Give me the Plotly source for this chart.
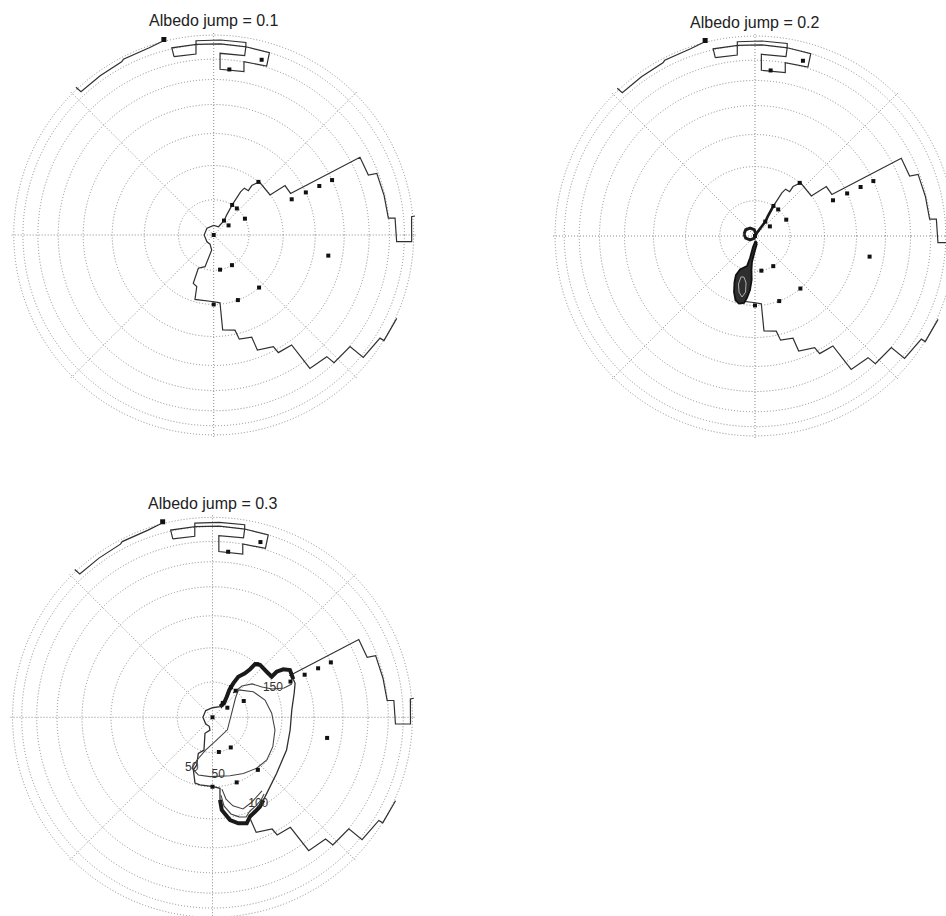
import numpy as np
import plotly.graph_objects as go

FIG_W, FIG_H = 960, 924

titles = ["Albedo jump = 0.1", "Albedo jump = 0.2", "Albedo jump = 0.3"]

# graticule: parallels every 10 deg, meridians every 45 deg
parallel_lats = [80, 70, 60, 50, 40, 30, 20, 10, 0]
meridian_lons = [0, 45, 90, 135, 180, 225, 270, 315]

# ice-sheet margin on the model grid (lon, lat in degrees)
outline_lon = [335.5, 328.2, 328.2, 320.7, 320.7, 313.3, 312.9, 305.8, 305.3, 298.8,
               298.1, 290.8, 290.4, 283.8, 282.6, 275.4, 275.3, 270.3, 253.8, 251.8,
               247.1, 245.2, 254.7, 262.4, 248.3, 225, 180, 135, 90, 60,
               54.2, 57.0, 58.5, 58.2, 58.1, 56.8, 52.0, 52.4, 49.4, 35.4,
               34.7, 28.4, 28.0, 21.2, 20.7, 13.0, 5.5, 5.3, 357.9, 358.1,
               5.3, 5.4]
outline_lat = [7.7, 9.3, 15.4, 17.8, 29.8, 30.2, 35.1, 35.9, 48.4, 48.6,
               51.4, 52.7, 57.5, 58.1, 61.3, 62.0, 70.4, 70.8, 70.7, 74.5,
               75.0, 79.6, 80.7, 85.7, 87.2, 87.3, 87.3, 87.3, 87.3, 87.3,
               85.0, 83.3, 79.9, 77.3, 75.5, 74.0, 73.9, 72.1, 69.8, 70.1,
               64.7, 64.5, 35.3, 35.2, 30.8, 30.5, 30.2, 26.2, 25.6, 12.6,
               11.8, 5.1]

# far-side fragments near the horizon
arc_lon = [133.0, 132.8, 125.5, 118.0, 117.2, 109.0, 105.1]
arc_lat = [5.7, 15.8, 15.6, 15.0, 13.3, 12.8, 9.6]

box_lon = [102.55, 102.6, 95.3, 95.6, 102.55]
box_lat = [25.8, 19.1, 19.4, 26.4, 25.8]

strip_lon = [95.3, 95.2, 88.0, 80.5, 80.3, 88.0, 95.3]
strip_lat = [19.4, 16.1, 16.0, 15.9, 19.8, 19.6, 19.4]

patch_lon = [80.3, 73.0, 72.6, 80.1, 79.5, 87.8, 88.0, 80.2, 80.3]
patch_lat = [19.8, 20.1, 29.3, 29.9, 35.1, 35.2, 26.4, 26.2, 19.8]

flag_lon = [104.3]
flag_lat = [6.3]

# stations
station_lon = [49.9, 58.5, 48.9, 27.6, 54.5, 32.9, 0.0, 24.6, 24.8, 24.9,
               24.9, 349.8, 301.2, 280.4, 310.8, 290.4, 270.0, 84.6, 74.7]
station_lat = [70, 80, 80, 80, 85, 85, 90, 65, 60, 55,
               50, 55, 80, 80, 70, 70, 70, 35, 26.5]

# albedo jump 0.2: ice confined to a narrow tongue
tongue_lon = [286.0, 270.0, 263.4, 264.1, 265.7, 264.7, 262.6, 260.7, 256.7, 253.1,
              249.4, 246.0, 244.0, 245.9, 255.1, 257.2, 259.7, 275.7, 286.0]
tongue_lat = [87.9, 86.0, 82.6, 80.3, 77.5, 74.5, 72.1, 70.5, 70.0, 70.7,
              72.9, 75.6, 77.6, 79.6, 81.2, 83.6, 86.8, 88.6, 87.9]
tongue_core_lon = [251.1, 251.0, 254.1, 258.0, 260.4, 259.2, 255.0, 251.1]
tongue_core_lat = [77.7, 75.5, 73.3, 72.1, 73.7, 76.4, 77.9, 77.7]
cap_lon = [169.7, 146.0, 122.0, 97.0, 63.0, 250.0, 218.7, 193.4, 169.7]
cap_lat = [86.85, 86.85, 87.4, 88.2, 89.4, 89.3, 88.2, 87.3, 86.85]

# albedo jump 0.3: ice-sheet edge and thickness contours
sheet_lon = [25.2, 31.4, 34.1, 35.4, 34.4, 40.1, 47.8, 51.4, 52.0, 53.6,
             57.6, 58.5, 58.4, 55.4, 50.6, 54.7, 90, 135, 180, 225,
             250, 258.9, 244.9, 255.4, 248.5, 251.7, 250.0, 255.1, 259.5, 270.7,
             276.0, 275.2, 275.7, 279.7, 283.7, 287.9, 290.7, 294.2, 297.9, 301.6,
             305.5, 318.9, 336.2, 350.7, 5.3, 16.4, 22.4, 25.2]
sheet_lat = [63.9, 63.45, 65.1, 67.2, 69.3, 69.6, 69.6, 70.4, 72.5, 74.4,
             76.3, 78.7, 80.9, 82.9, 84.9, 86.3, 87.3, 87.3, 87.3, 87.3,
             87.3, 86.3, 85.0, 80.4, 79.0, 75.7, 74.0, 70.4, 70.2, 70.0,
             69.4, 65.9, 62.7, 59.1, 57.5, 56.7, 58.5, 59.3, 60.1, 61.4,
             62.6, 65.2, 66.5, 67.2, 66.9, 65.2, 63.9, 63.9]

c50_lon = [46.6, 32.1, 18.2, 3.9, 348.5, 334.0, 321.8, 310.9, 298.8, 286.7,
           267.6, 256.2, 248.0, 250.0, 258.0, 275.0, 320.0, 20.0, 40.0, 46.6]
c50_lat = [79.3, 76.3, 74.2, 73.0, 71.7, 70.7, 70.1, 70.6, 71.6, 72.5,
           73.0, 73.0, 74.3, 77.0, 80.5, 83.0, 84.5, 84.0, 81.5, 79.3]

c150_lon = [49.8, 46.7, 40.1, 31.5, 25.4, 22.3, 22.7]
c150_lat = [81.0, 77.8, 75.2, 73.4, 71.0, 67.6, 64.9]

c100_lon = [276.2, 277.4, 280.8, 284.9, 288.6, 291.8, 296.1, 300.4, 303.9]
c100_lat = [67.3, 63.9, 61.0, 59.5, 58.8, 60.2, 60.9, 61.8, 62.9]

c75_lon = [277.5, 279.4, 283.0, 288.4, 295.0, 303.9]
c75_lat = [69.1, 65.9, 63.4, 61.6, 62.6, 64.1]

label_text = ["50", "50", "150", "100"]
label_lon = [247.8, 275.7, 25.8, 297.8]
label_lat = [74.3, 73.4, 70.7, 61.1]

LINE = "#303030"
GRID = "#8a8a8a"
FONT = "Liberation Sans, Arial, Helvetica, sans-serif"


def rad(lat):
    # orthographic projection about the pole
    return np.cos(np.radians(np.asarray(lat, dtype=float)))


def line_trace(lon, lat, sub, width=1.2, color=LINE, fill=None, fillcolor=None):
    return go.Scatterpolar(theta=list(lon), r=rad(lat), mode="lines", subplot=sub,
                           line=dict(color=color, width=width), fill=fill,
                           fillcolor=fillcolor, hoverinfo="skip", showlegend=False)


fig = go.Figure()
subs = ["polar", "polar2", "polar3"]

for k, sub in enumerate(subs):
    # margin of the ice sheet
    if k == 0:
        fig.add_trace(line_trace(outline_lon, outline_lat, sub))
    elif k == 1:
        fig.add_trace(line_trace(outline_lon[:19], outline_lat[:19], sub))
        fig.add_trace(line_trace(outline_lon[30:], outline_lat[30:], sub))
        fig.add_trace(line_trace([cap_lon[4]] + outline_lon[30:33],
                                 [cap_lat[4]] + outline_lat[30:33], sub, width=2.6,
                                 color="#1a1a1a"))
        fig.add_trace(line_trace(tongue_lon, tongue_lat, sub, width=1.8, color="#111",
                                 fill="toself", fillcolor="#2e2e2e"))
        fig.add_trace(line_trace(tongue_core_lon, tongue_core_lat, sub, width=1,
                                 color="#b0b0b0"))
        fig.add_trace(line_trace(cap_lon, cap_lat, sub, width=3, color="#1a1a1a"))
    else:
        fig.add_trace(line_trace(outline_lon[:13], outline_lat[:13], sub))
        fig.add_trace(line_trace(outline_lon[41:], outline_lat[41:], sub))
        fig.add_trace(line_trace(sheet_lon, sheet_lat, sub, width=1.3))
        fig.add_trace(line_trace(sheet_lon[:16], sheet_lat[:16], sub, width=4, color="#1a1a1a"))
        fig.add_trace(line_trace(sheet_lon[31:40], sheet_lat[31:40], sub, width=4, color="#1a1a1a"))
        fig.add_trace(line_trace(c100_lon, c100_lat, sub, width=1.1, color="#444"))
        fig.add_trace(line_trace(c75_lon, c75_lat, sub, width=1.1, color="#444"))
        fig.add_trace(line_trace(c50_lon, c50_lat, sub, width=1.1, color="#444"))
        fig.add_trace(line_trace(c150_lon, c150_lat, sub, width=1.1, color="#444"))
        fig.add_trace(go.Scatterpolar(theta=label_lon, r=rad(label_lat), mode="text",
                                      text=label_text, subplot=sub, hoverinfo="skip",
                                      showlegend=False,
                                      textfont=dict(family=FONT, size=12, color="#333")))

    # fragments near the horizon
    fig.add_trace(line_trace(arc_lon, arc_lat, sub))
    fig.add_trace(line_trace(box_lon, box_lat, sub))
    fig.add_trace(line_trace(strip_lon, strip_lat, sub))
    fig.add_trace(line_trace(patch_lon, patch_lat, sub))
    fig.add_trace(go.Scatterpolar(theta=flag_lon, r=rad(flag_lat), mode="markers", subplot=sub,
                                  marker=dict(symbol="square", size=5, color="#111"),
                                  hoverinfo="skip", showlegend=False))
    # stations
    fig.add_trace(go.Scatterpolar(theta=station_lon, r=rad(station_lat), mode="markers",
                                  subplot=sub, hoverinfo="skip", showlegend=False,
                                  marker=dict(symbol="square", size=4, color="#111")))


def domain(cx, cy, radius):
    return dict(x=[(cx - radius) / FIG_W, (cx + radius) / FIG_W],
                y=[1 - (cy + radius) / FIG_H, 1 - (cy - radius) / FIG_H])


centres = [(213.7, 235.0), (755.0, 236.0), (212.5, 717.3)]
RADIUS = 203.0

layout = dict(width=FIG_W, height=FIG_H, margin=dict(l=0, r=0, t=0, b=0),
              paper_bgcolor="white", plot_bgcolor="white", showlegend=False)
annotations = []
for k, (sub, (cx, cy)) in enumerate(zip(subs, centres)):
    layout[sub] = dict(
        domain=domain(cx, cy, RADIUS),
        bgcolor="white",
        radialaxis=dict(range=[0, 1], tickvals=list(rad(parallel_lats)), showticklabels=False,
                        ticks="", showline=False, gridcolor=GRID, griddash="1px,2px",
                        gridwidth=1),
        angularaxis=dict(tickvals=meridian_lons, showticklabels=False, ticks="",
                         showline=False, gridcolor=GRID, griddash="1px,2px", gridwidth=1),
    )
    annotations.append(dict(text=titles[k], x=cx / FIG_W, y=1 - (cy - RADIUS - 11) / FIG_H,
                            xref="paper", yref="paper", showarrow=False, xanchor="center",
                            yanchor="middle", font=dict(family=FONT, size=16, color="#222")))
layout["annotations"] = annotations
fig.update_layout(**layout)

fig.write_html("out.html",
               post_script="document.documentElement.style.overflow='hidden';"
                           "document.body.style.overflow='hidden';")
